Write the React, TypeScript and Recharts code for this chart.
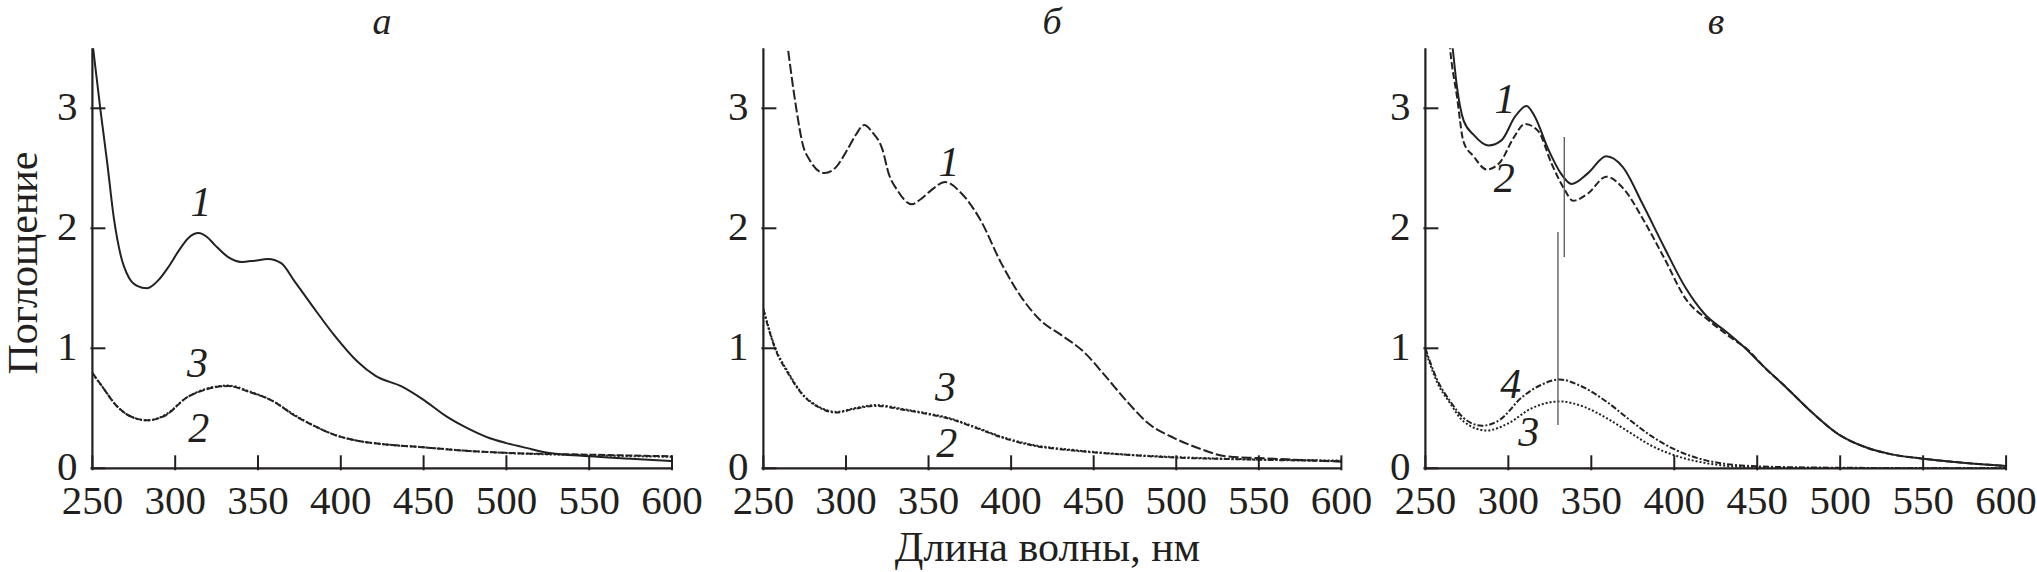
import React from 'react'
import { LineChart, Line, XAxis, YAxis, ReferenceLine, ReferenceDot } from 'recharts'

const INK = '#231f20'
const LINE = '#222'
const FONT = '"Liberation Serif", "Times New Roman", serif'

const X_TICKS = [250, 300, 350, 400, 450, 500, 550, 600]
const Y_TICKS = [0, 1, 2, 3]
const PANEL_TITLES = ['а', 'б', 'в']
const Y_LABEL = 'Поглощение'
const X_LABEL = 'Длина волны, нм'

// panel а
const A1_NM = [250, 255, 259, 263, 267, 272, 277, 283, 290, 296, 302, 308, 314, 319, 324, 332, 340, 348, 356, 364, 372, 383, 396, 410, 421, 437, 450, 464, 477, 490, 500, 512, 525, 550, 575, 600]
const A1_ABS = [3.55, 2.97, 2.54, 2.08, 1.78, 1.59, 1.52, 1.5, 1.57, 1.68, 1.81, 1.92, 1.96, 1.93, 1.86, 1.76, 1.72, 1.73, 1.745, 1.71, 1.56, 1.35, 1.11, 0.89, 0.77, 0.68, 0.57, 0.43, 0.33, 0.25, 0.21, 0.17, 0.13, 0.1, 0.08, 0.06]
const A23_NM = [250, 256, 264, 272, 283, 294, 307, 318, 332, 345, 359, 372, 383, 396, 410, 423, 450, 477, 504, 545, 600]
const A2_ABS = [0.795, 0.68, 0.53, 0.44, 0.4, 0.44, 0.59, 0.655, 0.685, 0.635, 0.56, 0.44, 0.36, 0.28, 0.23, 0.205, 0.175, 0.145, 0.127, 0.115, 0.1]
const A3_ABS = [0.79, 0.68, 0.53, 0.44, 0.4, 0.445, 0.59, 0.66, 0.69, 0.64, 0.56, 0.445, 0.36, 0.28, 0.23, 0.205, 0.175, 0.145, 0.125, 0.11, 0.095]

// panel б
const B1_NM = [262, 265, 270, 274, 278, 287, 294, 301, 306, 311, 316, 322, 326, 331, 340, 345, 351, 360, 370, 381, 394, 407, 418, 431, 444, 457, 470, 483, 499, 515, 530, 550, 575, 600]
const B1_ABS = [3.8, 3.48, 2.99, 2.69, 2.57, 2.46, 2.51, 2.66, 2.78, 2.86, 2.8, 2.66, 2.45, 2.32, 2.2, 2.24, 2.31, 2.385, 2.29, 2.08, 1.71, 1.41, 1.23, 1.105, 0.97, 0.77, 0.56, 0.375, 0.25, 0.16, 0.1, 0.085, 0.07, 0.055]
const B23_NM = [250, 257, 265, 273, 284, 294, 305, 318, 336, 352, 362, 378, 396, 415, 436, 462, 499, 541, 600]
const B2_ABS = [1.33, 1.01, 0.8, 0.63, 0.51, 0.47, 0.5, 0.527, 0.49, 0.45, 0.42, 0.345, 0.255, 0.19, 0.155, 0.122, 0.094, 0.076, 0.064]
const B3_ABS = [1.32, 1.0, 0.79, 0.625, 0.505, 0.465, 0.495, 0.52, 0.485, 0.445, 0.415, 0.34, 0.25, 0.185, 0.15, 0.12, 0.09, 0.074, 0.06]

// panel в
const V1_NM = [264, 266.6, 269, 273, 279, 288, 296, 304, 311, 316, 324, 332, 338, 348, 359, 369, 381, 394, 407, 418, 432, 442, 453, 467, 483, 499, 515, 531, 550, 574, 600]
const V1_ABS = [3.8, 3.48, 3.18, 2.9, 2.78, 2.69, 2.735, 2.93, 3.02, 2.93, 2.66, 2.45, 2.37, 2.46, 2.6, 2.51, 2.2, 1.84, 1.5, 1.29, 1.13, 1.01, 0.86, 0.68, 0.466, 0.283, 0.177, 0.116, 0.08, 0.046, 0.02]
const V2_NM = [263, 265, 269, 273, 279, 287, 295, 303, 310, 318, 326, 334, 339, 348, 359, 370, 381, 394, 407, 421, 434, 445, 453, 467, 483, 499, 515, 531, 550, 574, 600]
const V2_ABS = [3.8, 3.48, 3.1, 2.72, 2.6, 2.49, 2.55, 2.75, 2.87, 2.81, 2.54, 2.32, 2.23, 2.29, 2.43, 2.32, 2.08, 1.75, 1.41, 1.23, 1.09, 0.98, 0.86, 0.68, 0.466, 0.283, 0.177, 0.116, 0.08, 0.046, 0.02]
const V3_NM = [250, 257, 265, 273, 287, 300, 314, 331, 346, 359, 373, 386, 402, 418, 440, 470, 520, 600]
const V3_ABS = [0.98, 0.72, 0.54, 0.39, 0.315, 0.375, 0.5, 0.557, 0.51, 0.42, 0.3, 0.19, 0.1, 0.046, 0.012, 0.003, 0, 0]
const V4_NM = [250, 257, 265, 273, 284, 295, 308, 319, 331, 343, 359, 373, 386, 402, 418, 440, 467, 520, 600]
const V4_ABS = [1.0, 0.74, 0.557, 0.42, 0.355, 0.405, 0.59, 0.69, 0.74, 0.69, 0.557, 0.405, 0.27, 0.146, 0.07, 0.024, 0.01, 0.003, 0]

// marker lines in panel в: [nm, from, to]
const V_MARKS = [[333.7, 1.76, 2.76], [329.9, 0.36, 1.97]]

const pts = (nm: number[], abs: number[]) => nm.map((x, i) => ({ x, y: abs[i] }))

const PLOT_LEFT = 92.4
const PLOT_TOP = 48.3
const PLOT_BOTTOM = 468.3
const H = 572

const XTick = ({ x, y, payload }: any) => (
  <g>
    <line x1={x} x2={x} y1={y} y2={y - 15} stroke={INK} strokeWidth={2} />
    <text x={x} y={y + 44} textAnchor="middle" fontFamily={FONT} fontSize={41} fill={INK}>{payload.value}</text>
  </g>
)

const YTick = ({ x, y, payload }: any) => (
  <g>
    <line x1={x} x2={x + 15} y1={y} y2={y} stroke={INK} strokeWidth={2} />
    <text x={x - 13} y={y + 12} textAnchor="end" fontFamily={FONT} fontSize={41} fill={INK}>{payload.value}</text>
  </g>
)

const numShape = (text: string) => (p: any) => (
  <text x={p.cx} y={p.cy + 14} textAnchor="middle" fontFamily={FONT} fontStyle="italic" fontSize={42} fill={INK}>{text}</text>
)

type Series = { data: { x: number; y: number }[]; dash?: string }
type Tag = { text: string; x: number; y: number }

function Panel({ left, plotW, series, tags, marks = [] }: { left: number; plotW: number; series: Series[]; tags: Tag[]; marks?: number[][] }) {
  const W = PLOT_LEFT + plotW + 40
  return (
    <div style={{ position: 'absolute', left, top: 0 }}>
      <LineChart width={W} height={H} margin={{ top: PLOT_TOP, right: 40, left: PLOT_LEFT - 60, bottom: H - PLOT_BOTTOM - 40 }}>
        <XAxis type="number" dataKey="x" domain={[250, 600]} ticks={X_TICKS} interval={0} allowDataOverflow height={40}
          tickSize={0} tickLine={false} tick={XTick} axisLine={{ stroke: INK, strokeWidth: 2.2 }} />
        <YAxis type="number" domain={[0, 3.5]} ticks={Y_TICKS} interval={0} allowDataOverflow width={60}
          tickSize={0} tickLine={false} tick={YTick} axisLine={{ stroke: INK, strokeWidth: 2.2 }} />
        {series.map((s, i) => (
          <Line key={i} data={s.data} dataKey="y" type="monotone" stroke={LINE} strokeWidth={2}
            strokeDasharray={s.dash} dot={false} activeDot={false} isAnimationActive={false} />
        ))}
        {marks.map(([x, y1, y2], i) => (
          <ReferenceLine key={'m' + i} segment={[{ x, y: y1 }, { x, y: y2 }]} stroke="#555" strokeWidth={1.3} />
        ))}
        {tags.map((t, i) => (
          <ReferenceDot key={'t' + i} x={t.x} y={t.y} r={0} shape={numShape(t.text)} />
        ))}
      </LineChart>
    </div>
  )
}

const textBase: React.CSSProperties = { position: 'absolute', fontFamily: FONT, color: INK, whiteSpace: 'nowrap', textAlign: 'center' }

export default function App() {
  return (
    <div style={{ position: 'absolute', left: 0, top: 0, width: 2037, height: H, background: '#fff', overflow: 'hidden' }}>
      <Panel left={0} plotW={579.6}
        series={[
          { data: pts(A1_NM, A1_ABS) },
          { data: pts(A23_NM, A2_ABS), dash: '7 2' },
          { data: pts(A23_NM, A3_ABS), dash: '2 2' },
        ]}
        tags={[{ text: '1', x: 315.6, y: 2.22 }, { text: '3', x: 313.4, y: 0.88 }, { text: '2', x: 314.2, y: 0.34 }]}
      />
      <Panel left={670.9} plotW={578}
        series={[
          { data: pts(B1_NM, B1_ABS), dash: '10 3' },
          { data: pts(B23_NM, B2_ABS), dash: '2 2' },
          { data: pts(B23_NM, B3_ABS), dash: '5 2 2 2' },
        ]}
        tags={[{ text: '1', x: 362.4, y: 2.55 }, { text: '3', x: 360.3, y: 0.68 }, { text: '2', x: 361, y: 0.21 }]}
      />
      <Panel left={1333.4} plotW={580.7}
        series={[
          { data: pts(V1_NM, V1_ABS) },
          { data: pts(V2_NM, V2_ABS), dash: '7 3' },
          { data: pts(V3_NM, V3_ABS), dash: '2 2' },
          { data: pts(V4_NM, V4_ABS), dash: '6 2 2 2' },
        ]}
        tags={[{ text: '1', x: 298, y: 3.08 }, { text: '2', x: 297.5, y: 2.42 }, { text: '4', x: 301.5, y: 0.7 }, { text: '3', x: 312.3, y: 0.3 }]}
        marks={V_MARKS}
      />
      {PANEL_TITLES.map((t, i) => (
        <div key={t} style={{ ...textBase, left: [382, 1052, 1716][i] - 50, top: 6, width: 100, fontSize: 38, lineHeight: '30px', fontStyle: 'italic' }}>{t}</div>
      ))}
      <div style={{ ...textBase, left: 23 - 200, top: 263 - 21, width: 400, height: 42, fontSize: 42, lineHeight: '42px', transform: 'rotate(-90deg)' }}>{Y_LABEL}</div>
      <div style={{ ...textBase, left: 1047.5 - 250, top: 525.5, width: 500, fontSize: 42, lineHeight: '42px' }}>{X_LABEL}</div>
    </div>
  )
}
